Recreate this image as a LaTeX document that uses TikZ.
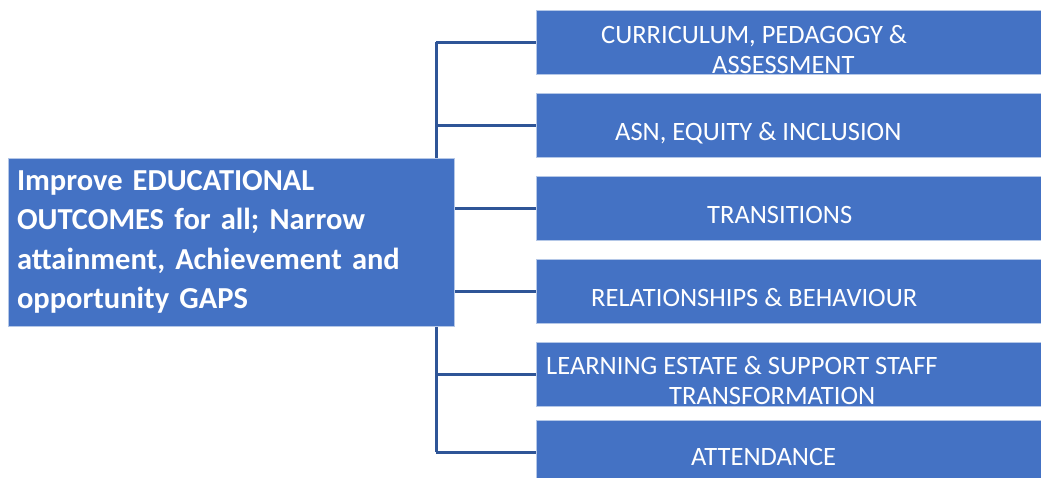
\documentclass[tikz,border=0pt]{standalone}
\usepackage{fontspec}
\setmainfont{Carlito}
\usepackage{tikz}
\usetikzlibrary{backgrounds}

\definecolor{boxblue}{HTML}{4472C4}
\definecolor{edgeblue}{HTML}{B4C7E7}
\definecolor{linkblue}{HTML}{2F5597}

\tikzset{
	area/.style={fill=boxblue, draw=edgeblue, line width=0.8pt, outer sep=0pt, inner sep=0pt,
		minimum width=512pt, minimum height=64pt, anchor=north west},
	areatext/.style={text=white, font=\fontsize{26.5}{30}\selectfont, align=left, inner sep=0pt, anchor=base west},
	goalbox/.style={fill=boxblue, draw=edgeblue, line width=0.8pt, outer sep=0pt, anchor=north west,
		inner xsep=9pt, inner ysep=0pt, text width=428pt, minimum height=168pt, align=left,
		text=white, font=\fontsize{30.5}{39.5}\selectfont\bfseries},
	link/.style={draw=linkblue, line width=3pt}
}

\begin{document}
\begin{tikzpicture}[x=1pt, y=-1pt]
			\useasboundingbox (0,0) rectangle (1041,477);
			% base of a label is the base of its last line
			\foreach[count=\i] \ytop/\xl/\ybase/\txt in {
					10/601/73/{CURRICULUM, PEDAGOGY \&\\\hspace*{111pt}ASSESSMENT},
					93/615/140/{ASN, EQUITY \& INCLUSION},
					176/707/223/{TRANSITIONS},
					259/591/306/{RELATIONSHIPS \& BEHAVIOUR},
					342/546/404/{LEARNING ESTATE \& SUPPORT STAFF\\\hspace*{123pt}TRANSFORMATION},
					420/691/465/{ATTENDANCE}} {
				\node[area] (b\i) at (536,\ytop) {};
				\node[areatext] (t\i) at (\xl,\ybase) {\txt};
			}

			\node[goalbox] (goal) at (8,158) {Improve EDUCATIONAL\\OUTCOMES for all; Narrow\\attainment, Achievement and\\opportunity GAPS};

			\coordinate (spine) at (436,0);
			\begin{scope}[on background layer]
				\draw[link] (spine |- b1.west) -- (spine |- b6.west);
				\foreach \i in {1,...,6} {
					\draw[link] (spine |- b\i.west) -- (b\i.west);
				}
			\end{scope}
\end{tikzpicture}
\end{document}
